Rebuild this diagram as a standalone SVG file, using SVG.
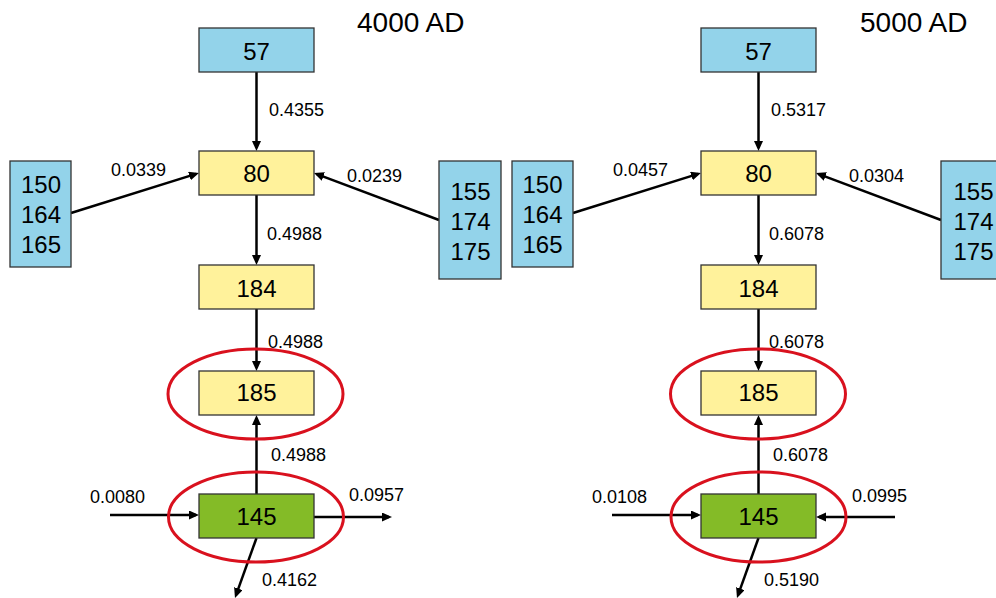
<svg xmlns="http://www.w3.org/2000/svg" width="996" height="598" viewBox="0 0 996 598">
<style>
text{font-family:"Liberation Sans",Arial,sans-serif;fill:#000}
.title{font-size:28px}
.n{font-size:24px;text-anchor:middle}
.lbl{font-size:18px}
.blue{fill:#93D3EA;stroke:#333;stroke-width:1.3}
.yel{fill:#FFF29B;stroke:#333;stroke-width:1.3}
.grn{fill:#84BB27;stroke:#333;stroke-width:1.3}
.ring{fill:none;stroke:#D9111E;stroke-width:3}
.c{stroke:#000;stroke-width:2.5;fill:none;marker-end:url(#ah)}
</style>
<defs>
<marker id="ah" markerUnits="userSpaceOnUse" markerWidth="11" markerHeight="10" refX="7" refY="4.5" orient="auto">
<path d="M0,0 L10,4.5 L0,9 z" fill="#000"/>
</marker>
</defs>
<rect width="996" height="598" fill="#fff"/>

<text class="title" x="357" y="32">4000 AD</text>
<text class="title" x="860" y="32">5000 AD</text>

<g id="connectors">
<line class="c" x1="256.5" y1="72" x2="256.5" y2="148"/>
<line class="c" x1="71" y1="213" x2="196.1" y2="173.9"/>
<line class="c" x1="439" y1="220" x2="316.8" y2="174.1"/>
<line class="c" x1="256.5" y1="195" x2="256.5" y2="262"/>
<line class="c" x1="256.5" y1="309" x2="256.5" y2="368"/>
<line class="c" x1="256.5" y1="494" x2="256.5" y2="418"/>
<line class="c" x1="110" y1="515" x2="196" y2="515"/>
<line class="c" x1="314" y1="517" x2="389" y2="517"/>
<line class="c" x1="256.5" y1="538" x2="236" y2="595.2"/>

<line class="c" x1="758.5" y1="72" x2="758.5" y2="148"/>
<line class="c" x1="573" y1="213" x2="698.1" y2="173.9"/>
<line class="c" x1="941" y1="220" x2="818.8" y2="174.1"/>
<line class="c" x1="758.5" y1="195" x2="758.5" y2="262"/>
<line class="c" x1="758.5" y1="309" x2="758.5" y2="368"/>
<line class="c" x1="758.5" y1="494" x2="758.5" y2="418"/>
<line class="c" x1="612" y1="515" x2="698" y2="515"/>
<line class="c" x1="895" y1="517" x2="819" y2="517"/>
<line class="c" x1="758.5" y1="538" x2="738" y2="595.2"/>
</g>

<g id="L57"><rect class="blue" x="199" y="28" width="115" height="44"/><text class="n" x="256.5" y="60">57</text></g>
<g id="L80"><rect class="yel" x="199" y="151" width="115" height="44"/><text class="n" x="256.5" y="182">80</text></g>
<g id="L150"><rect class="blue" x="10" y="161" width="61" height="106"/><text class="n" x="41" y="193">150</text><text class="n" x="41" y="223">164</text><text class="n" x="41" y="253">165</text></g>
<g id="L155"><rect class="blue" x="439" y="161" width="62" height="118"/><text class="n" x="470.5" y="200">155</text><text class="n" x="470.5" y="230">174</text><text class="n" x="470.5" y="260">175</text></g>
<g id="L184"><rect class="yel" x="199" y="265" width="115" height="44"/><text class="n" x="256.5" y="297">184</text></g>
<g id="L185"><rect class="yel" x="199" y="371" width="115" height="44"/><text class="n" x="256.5" y="401">185</text></g>
<g id="L145"><rect class="grn" x="199" y="494" width="115" height="44"/><text class="n" x="256.5" y="525">145</text></g>

<g id="R57"><rect class="blue" x="701" y="28" width="115" height="44"/><text class="n" x="758.5" y="60">57</text></g>
<g id="R80"><rect class="yel" x="701" y="151" width="115" height="44"/><text class="n" x="758.5" y="182">80</text></g>
<g id="R150"><rect class="blue" x="512" y="161" width="61" height="106"/><text class="n" x="542.5" y="193">150</text><text class="n" x="542.5" y="223">164</text><text class="n" x="542.5" y="253">165</text></g>
<g id="R155"><rect class="blue" x="941" y="161" width="62" height="118"/><text class="n" x="973.5" y="200">155</text><text class="n" x="973.5" y="230">174</text><text class="n" x="973.5" y="260">175</text></g>
<g id="R184"><rect class="yel" x="701" y="265" width="115" height="44"/><text class="n" x="758.5" y="297">184</text></g>
<g id="R185"><rect class="yel" x="701" y="371" width="115" height="44"/><text class="n" x="758.5" y="401">185</text></g>
<g id="R145"><rect class="grn" x="701" y="494" width="115" height="44"/><text class="n" x="758.5" y="525">145</text></g>

<g id="rings">
<ellipse class="ring" cx="255.5" cy="394" rx="87.5" ry="45"/>
<ellipse class="ring" cx="256" cy="517" rx="87.5" ry="45"/>
<ellipse class="ring" cx="758" cy="394" rx="87.5" ry="45"/>
<ellipse class="ring" cx="758.5" cy="517" rx="87.5" ry="45"/>
</g>

<g id="labels">
<text class="lbl" x="269" y="116">0.4355</text>
<text class="lbl" x="111" y="176">0.0339</text>
<text class="lbl" x="347" y="182">0.0239</text>
<text class="lbl" x="267" y="240">0.4988</text>
<text class="lbl" x="268" y="348">0.4988</text>
<text class="lbl" x="271" y="461">0.4988</text>
<text class="lbl" x="90" y="503">0.0080</text>
<text class="lbl" x="349" y="501">0.0957</text>
<text class="lbl" x="262" y="586">0.4162</text>

<text class="lbl" x="771" y="116">0.5317</text>
<text class="lbl" x="613" y="176">0.0457</text>
<text class="lbl" x="849" y="182">0.0304</text>
<text class="lbl" x="769" y="240">0.6078</text>
<text class="lbl" x="769" y="348">0.6078</text>
<text class="lbl" x="773" y="461">0.6078</text>
<text class="lbl" x="592" y="503">0.0108</text>
<text class="lbl" x="852" y="502">0.0995</text>
<text class="lbl" x="764" y="586">0.5190</text>
</g>
</svg>
